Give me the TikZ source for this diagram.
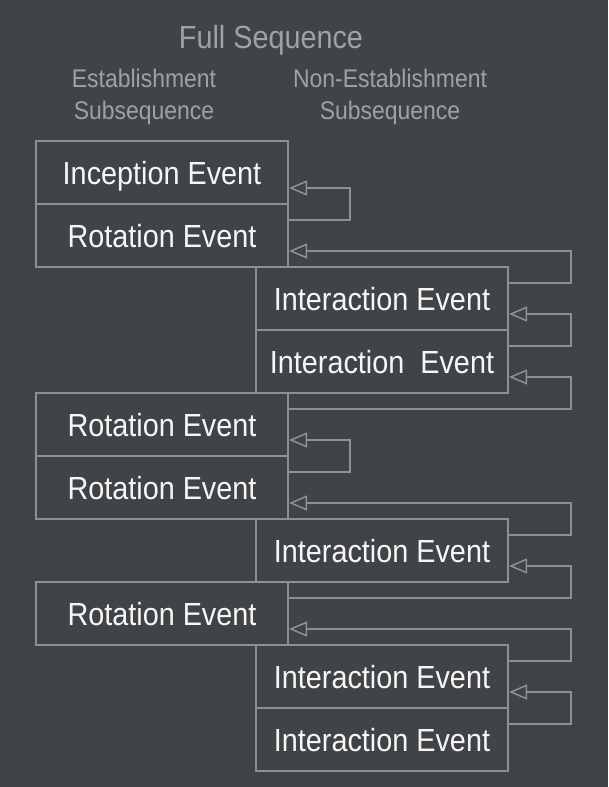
\documentclass[tikz,border=0pt]{standalone}
\usepackage{fontspec}
\setmainfont{Liberation Sans}[FakeStretch=0.9]
\usepackage{tikz}
\usepackage{xcolor}
\usetikzlibrary{arrows.meta,positioning}
\definecolor{slate}{HTML}{414447}
\definecolor{rule}{HTML}{8E9092}
\definecolor{caption}{HTML}{9DA2A7}
\definecolor{paper}{HTML}{F6F6F6}
\tikzset{
  evt/.style={draw=rule,line width=1.5pt,minimum width=252pt,minimum height=63pt,
    inner sep=0pt,outer sep=0pt,anchor=north west,text=paper,text height=23pt,text depth=0pt,
    font=\fontsize{32}{36}\selectfont},
  back/.style={draw=rule,line width=1.5pt,-{Triangle[open,length=18pt,width=15pt]},shorten >=1pt},
  head/.style={text=caption,align=center,font=\fontsize{25.5}{32}\selectfont}
}

\begin{document}
\begin{tikzpicture}[x=1pt,y=1pt]
      \fill[slate] (0,0) rectangle (608,-787);
      \useasboundingbox (0,0) rectangle (608,-787);
      \node[text=caption,font=\fontsize{32}{36}\selectfont] (full) at (271,-40) {Full Sequence};
      \node[head] (est) at (144,-97) {Establishment\\Subsequence};
      \node[head] (nonest) at (390,-97) {Non-Establishment\\Subsequence};
      % left column at x=36, right column at x=256
      \node[evt] (e1) at (36,-141) {Inception Event};
      \node[evt] (e2) at (36,-204) {Rotation Event};
      \node[evt] (e3) at (256,-267) {Interaction Event};
      \node[evt] (e4) at (256,-330) {Interaction~\ Event};
      \node[evt] (e5) at (36,-393) {Rotation Event};
      \node[evt] (e6) at (36,-456) {Rotation Event};
      \node[evt] (e7) at (256,-519) {Interaction Event};
      \node[evt] (e8) at (36,-582) {Rotation Event};
      \node[evt] (e9) at (256,-645) {Interaction Event};
      \node[evt] (e10) at (256,-708) {Interaction Event};
      % each event points back to the one before it
      \foreach \cur/\prev/\run in {e2/e1/62, e3/e2/63, e4/e3/63, e5/e4/283, e6/e5/62,
          e7/e6/63, e8/e7/283, e9/e8/63, e10/e9/63}
        \draw[back] ([yshift=-16pt]\cur.north east) -- ++(\run,0) |- ([yshift=16pt]\prev.south east);
    \end{tikzpicture}
\end{document}
